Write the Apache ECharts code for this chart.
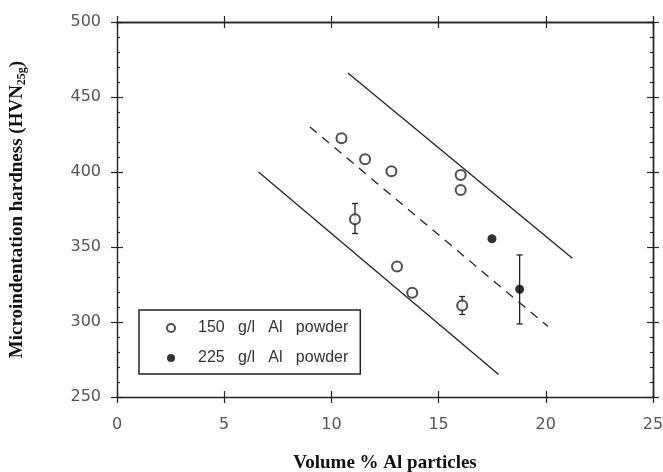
<!DOCTYPE html>
<html>
<head>
<meta charset="utf-8">
<script src="https://cdn.jsdelivr.net/npm/echarts@6/dist/echarts.min.js"></script>
<style>html,body{margin:0;padding:0;background:#fff}#c{width:663px;height:472px}</style>
</head>
<body>
<div id="c"></div>
<script>
// ---- data ----
const xTicks = [0, 5, 10, 15, 20, 25];
const yTicks = [250, 300, 350, 400, 450, 500];
const open150 = [[10.47, 422.5], [11.57, 408.5], [12.8, 400.5], [16.03, 398], [16.03, 388], [11.1, 368.5], [13.06, 337], [13.77, 319.5], [16.1, 311]];
const filled225 = [[17.49, 355.5], [18.78, 321.8]];
const errBars150 = [[11.1, 359, 379], [16.1, 305, 317]];
const errBars225 = [[18.78, 298.7, 344.7]];
const upperLine = [[10.77, 466], [21.24, 342.5]];
const meanLine = [[9.0, 430], [20.1, 297]];
const lowerLine = [[6.6, 400], [17.8, 265]];
const legendNames = ['150   g/l   Al   powder', '225   g/l   Al   powder'];

const INK = '#222';
const LABEL = '#555';
const tickFont = {fontFamily: 'DejaVu Sans', fontSize: 16, color: LABEL};

function xAx(pos, inside, labels) {
  return {
    type: 'value', position: pos, min: 0, max: 25, interval: 5,
    axisLine: {show: labels || pos === 'top', onZero: false, lineStyle: {color: INK, width: 1.4}},
    axisTick: {show: true, inside: inside, length: 6, lineStyle: {color: INK, width: 1.2}},
    axisLabel: labels ? Object.assign({show: true, margin: 20, formatter: v => xTicks.includes(v) ? String(v) : ''}, tickFont) : {show: false},
    splitLine: {show: false},
    name: labels ? 'Volume % Al particles' : '',
    nameLocation: 'middle', nameGap: 57,
    nameTextStyle: {fontFamily: 'Liberation Serif', fontWeight: 'bold', fontSize: 19, color: '#111'}
  };
}
function yAx(pos, inside, labels) {
  return {
    type: 'value', position: pos, min: 250, max: 500, interval: 50,
    axisLine: {show: labels || pos === 'right', onZero: false, lineStyle: {color: INK, width: 1.4}},
    axisTick: {show: true, inside: inside, length: 6, lineStyle: {color: INK, width: 1.2}},
    minorTick: {show: inside, splitNumber: 5, length: 3, lineStyle: {color: INK, width: 1.2}},
    axisLabel: labels ? Object.assign({show: true, margin: 16, formatter: v => yTicks.includes(v) ? String(v) : ''}, tickFont) : {show: false},
    splitLine: {show: false},
    name: labels ? 'Microindentation hardness (HVN{sub|25g})' : '',
    nameLocation: 'middle', nameGap: 89, nameRotate: 90,
    nameTextStyle: {
      fontFamily: 'Liberation Serif', fontWeight: 'bold', fontSize: 19, color: '#111',
      rich: {sub: {fontFamily: 'Liberation Serif', fontWeight: 'bold', fontSize: 12, color: '#111', verticalAlign: 'bottom', padding: [10, 0, 0, 0]}}
    }
  };
}

function errRender(params, api) {
  const x = api.value(0), lo = api.value(1), hi = api.value(2);
  const a = api.coord([x, lo]), b = api.coord([x, hi]);
  const st = {stroke: INK, lineWidth: 1.3};
  return {type: 'group', children: [
    {type: 'line', shape: {x1: a[0], y1: a[1], x2: b[0], y2: b[1]}, style: st},
    {type: 'line', shape: {x1: a[0] - 3, y1: a[1], x2: a[0] + 3, y2: a[1]}, style: st},
    {type: 'line', shape: {x1: b[0] - 3, y1: b[1], x2: b[0] + 3, y2: b[1]}, style: st}
  ]};
}

const chart = echarts.init(document.getElementById('c'));
chart.setOption({
  animation: false,
  backgroundColor: '#fff',
  grid: {left: 117, right: 10, top: 22, bottom: 75, containLabel: false, outerBoundsMode: 'none'},
  xAxis: [xAx('bottom', true, true), xAx('bottom', false, false), xAx('top', true, false), xAx('top', false, false)],
  yAxis: [yAx('left', true, true), yAx('left', false, false), yAx('right', true, false), yAx('right', false, false)],
  legend: {
    orient: 'vertical', left: 139, top: 310,
    data: [{name: legendNames[0], icon: 'emptyCircle'}, {name: legendNames[1], icon: 'circle'}],
    itemWidth: 8, itemHeight: 8, itemGap: 14,
    padding: [10, 12, 8, 27],
    borderColor: INK, borderWidth: 1.5, borderRadius: 0,
    textStyle: {fontFamily: 'Liberation Sans', fontSize: 16, color: '#333', padding: [0, 0, 0, 18]},
    selectedMode: false
  },
  series: [
    {type: 'line', data: upperLine, symbol: 'none', lineStyle: {color: INK, width: 1.3}, silent: true},
    {type: 'line', data: lowerLine, symbol: 'none', lineStyle: {color: INK, width: 1.3}, silent: true},
    {type: 'line', data: meanLine, symbol: 'none', lineStyle: {color: INK, width: 1.3, type: [9, 7]}, silent: true},
    {type: 'custom', data: errBars150, renderItem: errRender, encode: {x: 0, y: [1, 2]}, silent: true},
    {type: 'custom', data: errBars225, renderItem: errRender, encode: {x: 0, y: [1, 2]}, silent: true},
    {name: legendNames[0], type: 'scatter', data: open150, symbol: 'emptyCircle', symbolSize: 10,
     itemStyle: {color: INK, borderWidth: 1.2}},
    {name: legendNames[1], type: 'scatter', data: filled225, symbol: 'circle', symbolSize: 9,
     itemStyle: {color: '#000'}}
  ]
});
</script>
</body>
</html>
